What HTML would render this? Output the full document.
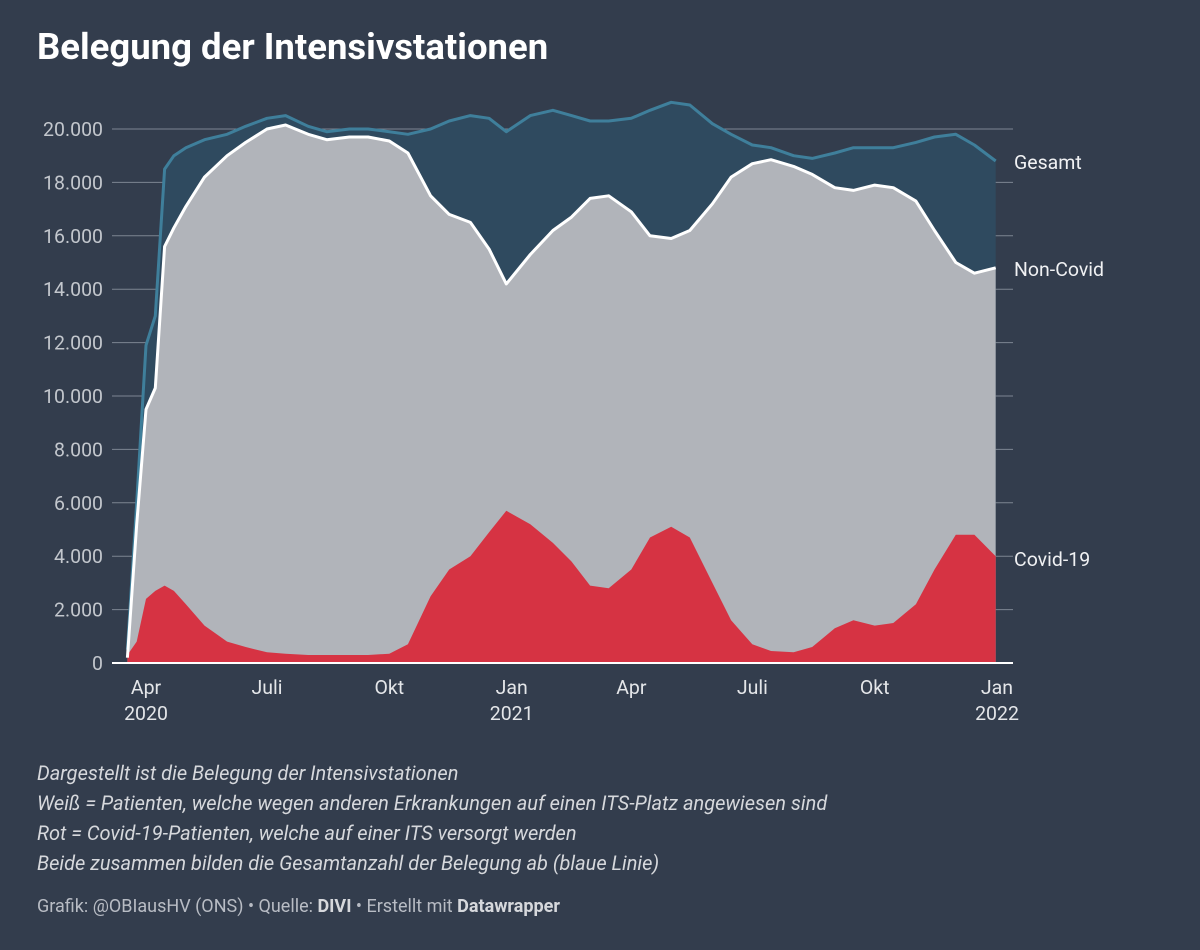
<!DOCTYPE html>
<html><head><meta charset="utf-8">
<style>
html,body{margin:0;padding:0;background:#333d4d;}
body{width:1200px;height:950px;position:relative;font-family:"Roboto","Liberation Sans",sans-serif;overflow:hidden;}
h1{position:absolute;left:37px;top:25px;margin:0;font-size:36.5px;font-weight:bold;color:#fff;}
.notes{position:absolute;left:37px;top:758px;color:#d6d8dc;font-style:italic;font-size:20px;line-height:30px;}
.foot{position:absolute;left:37px;top:896px;color:#b8bcc4;font-size:18px;}
.foot b{color:#d6d8dc;}
</style></head><body>
<h1>Belegung der Intensivstationen</h1>
<svg id="chart" width="1200" height="950" style="position:absolute;left:0;top:0"></svg>
<div class="notes">
Dargestellt ist die Belegung der Intensivstationen<br>
Weiß = Patienten, welche wegen anderen Erkrankungen auf einen ITS-Platz angewiesen sind<br>
Rot = Covid-19-Patienten, welche auf einer ITS versorgt werden<br>
Beide zusammen bilden die Gesamtanzahl der Belegung ab (blaue Linie)
</div>
<div class="foot">Grafik: @OBIausHV (ONS) • Quelle: <b>DIVI</b> • Erstellt mit <b>Datawrapper</b></div>
<script>
const dates=["2020-03-18","2020-03-25","2020-04-01","2020-04-08","2020-04-15","2020-04-22","2020-05-01","2020-05-15","2020-06-01","2020-06-15","2020-07-01","2020-07-15","2020-08-01","2020-08-15","2020-09-01","2020-09-15","2020-10-01","2020-10-15","2020-11-01","2020-11-15","2020-12-01","2020-12-15","2020-12-28","2021-01-15","2021-02-01","2021-02-15","2021-03-01","2021-03-15","2021-04-01","2021-04-15","2021-05-01","2021-05-15","2021-06-01","2021-06-15","2021-07-01","2021-07-15","2021-08-01","2021-08-15","2021-09-01","2021-09-15","2021-10-01","2021-10-15","2021-11-01","2021-11-15","2021-12-01","2021-12-15","2021-12-31"];
const gesamt=[500,6000,11900,13000,18500,19000,19300,19600,19800,20100,20400,20500,20100,19900,20000,20000,19900,19800,20000,20300,20500,20400,19900,20500,20700,20500,20300,20300,20400,20700,21000,20900,20200,19800,19400,19300,19000,18900,19100,19300,19300,19300,19500,19700,19800,19400,18800];
const covid=[300,800,2400,2700,2900,2700,2200,1400,800,600,400,350,300,300,300,300,350,700,2500,3500,4000,4900,5700,5200,4500,3800,2900,2800,3500,4700,5100,4700,3000,1600,700,450,400,600,1300,1600,1400,1500,2200,3500,4800,4800,4000];
const yTicks=[0,2000,4000,6000,8000,10000,12000,14000,16000,18000,20000];
const xTickDates=["2020-04-01","2020-07-01","2020-10-01","2021-01-01","2021-04-01","2021-07-01","2021-10-01","2022-01-01"];
const xTickLabels=[["Apr","2020"],["Juli"],["Okt"],["Jan","2021"],["Apr"],["Juli"],["Okt"],["Jan","2022"]];

const svg=document.getElementById('chart');const NS='http://www.w3.org/2000/svg';
const base=Date.UTC(2020,3,1);
function day(s){const p=s.split('-');return (Date.UTC(+p[0],+p[1]-1,+p[2])-base)/86400000;}
function X(s){return 146+day(s)*(997-146)/640;}
function Y(v){return 663-v*534/20000;}
function el(t,a){const e=document.createElementNS(NS,t);for(const k in a)e.setAttribute(k,a[k]);svg.appendChild(e);return e;}
const non=gesamt.map((g,i)=>g-covid[i]);
function pts(vals){return dates.map((d,i)=>X(d).toFixed(1)+','+Y(vals[i]).toFixed(1));}
function area(vals,fill,name){const p=pts(vals);const e=el('path',{d:'M'+X(dates[0])+','+Y(0)+' L'+p.join(' L')+' L'+X(dates[dates.length-1])+','+Y(0)+'Z',fill:fill});

}
function line(vals,stroke,name){const e=el('polyline',{points:pts(vals).join(' '),fill:'none',stroke:stroke,'stroke-width':3,'stroke-linejoin':'round'});

}
yTicks.forEach(v=>{
 if(v>0){const g=el('line',{x1:112,x2:1013,y1:Y(v),y2:Y(v),stroke:'#7d8592','stroke-width':1});
 
 }
 const t=el('text',{x:103,y:Y(v)+7,'text-anchor':'end',fill:'#c3c7cd','font-size':19.5});t.textContent=v.toLocaleString('de-DE');
 
 
});
area(gesamt,'#2f4a5f','gesamt-area');
area(non,'#b1b4ba','non-covid-area');
area(covid,'#d63343','covid-area');
line(gesamt,'#3f7f9b','gesamt-line');
line(non,'#ffffff','non-covid-line');
const ax=el('line',{x1:112,x2:1013,y1:663,y2:663,stroke:'#fff','stroke-width':2});


xTickDates.forEach((d,i)=>{xTickLabels[i].forEach((s,j)=>{const t=el('text',{x:X(d),y:694+j*26,'text-anchor':'middle',fill:'#e4e6e9','font-size':19.5});t.textContent=s;

});});
[["Gesamt",gesamt,8],["Non-Covid",non,8],["Covid-19",covid,10]].forEach(([n,v,o])=>{const t=el('text',{x:1014,y:Y(v[v.length-1])+o,fill:'#f0f1f3','font-size':19.5});t.textContent=n;

});
</script>
</body></html>
